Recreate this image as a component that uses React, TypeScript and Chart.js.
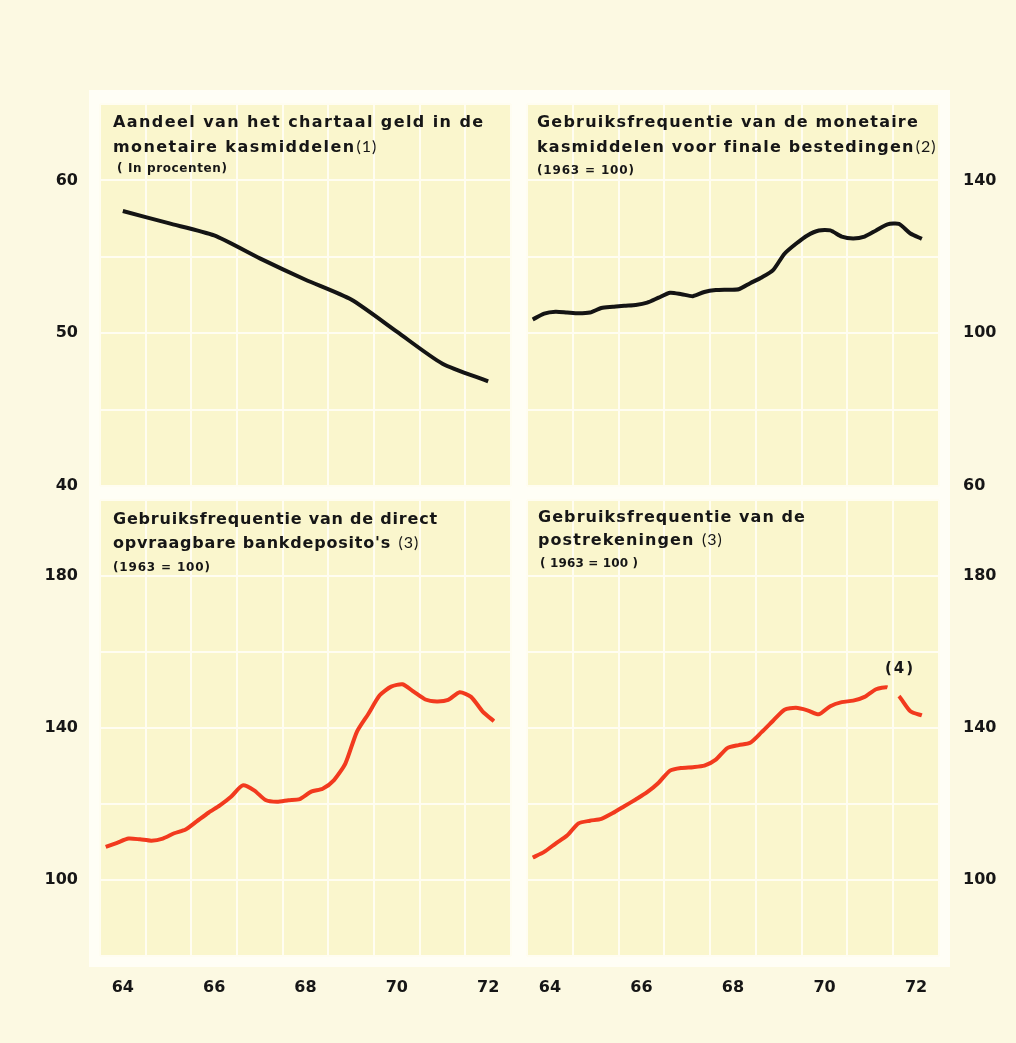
import React, { useEffect, useRef } from 'react';
import { Chart, registerables } from 'chart.js';

Chart.register(...registerables);

const PAGE_W = 1016;
const PAGE_H = 1043;

// ---------- DATA ----------
const yearLabels = ['64', '66', '68', '70', '72'];
const yearLabelPositions = [1964.5, 1966.5, 1968.5, 1970.5, 1972.5];
const yearBoundaries = [1964, 1965, 1966, 1967, 1968, 1969, 1970, 1971, 1972, 1973];

// annual observations (mid-year)
const annualX = [1964.5, 1965.5, 1966.5, 1967.5, 1968.5, 1969.5, 1970.5, 1971.5, 1972.5];
// quarterly observations 1964-I .. 1972-III (mid-quarter)
const quarterX = Array.from({ length: 35 }, (_, i) => 1964 + (i + 0.5) / 4);

// Aandeel van het chartaal geld (%)
const chartaalShare = [58.0, 57.2, 56.4, 54.9, 53.5, 52.2, 50.1, 48.0, 46.85];

// Gebruiksfrequentie monetaire kasmiddelen (1963 = 100)
const monetaryFreq = [
  103.6, 105.1, 105.6, 105.4, 105.2, 105.4, 106.6, 106.9, 107.2, 107.4,
  108.0, 109.3, 110.6, 110.2, 109.7, 110.8, 111.3, 111.4, 111.5, 113.1,
  114.6, 116.5, 120.8, 123.4, 125.6, 126.9, 126.9, 125.3, 124.8, 125.3,
  126.9, 128.5, 128.6, 126.1, 124.7,
];

// Gebruiksfrequentie direct opvraagbare bankdeposito's (1963 = 100)
const bankFreq = [
  108.7, 109.8, 110.9, 110.7, 110.35, 110.9, 112.3, 113.3, 115.5, 117.7,
  119.65, 122.0, 124.9, 123.6, 121.05, 120.6, 121.0, 121.3, 123.25, 124.0,
  126.3, 130.7, 139.0, 143.7, 148.6, 150.9, 151.5, 149.5, 147.5, 147.0,
  147.4, 149.4, 148.2, 144.4, 141.8,
];

// Gebruiksfrequentie postrekeningen (1963 = 100)
const postFreq = [
  105.9, 107.4, 109.6, 111.7, 114.9, 115.6, 116.1, 117.6, 119.4, 121.2,
  123.1, 125.6, 128.8, 129.5, 129.7, 130.1, 131.7, 134.7, 135.5, 136.1,
  138.9, 141.9, 144.8, 145.3, 144.65, 143.6, 145.75, 146.8, 147.2, 148.2,
  150.2, 150.7, 148.4, 144.4, 143.3,
];
const postBreakAfterIndex = 31; // series break, marked (4)
const postNote = { text: '(4)', x: 1972.15, y: 155.6 };

const tlYLabels = [40, 50, 60];
const trYLabels = [60, 100, 140];
const bottomYLabels = [100, 140, 180];

// ---------- STYLE ----------
const BG = '#fcf9e2';
const FRAME = '#fffef6';
const PANEL = '#faf6cd';
const GRID = '#fffdf1';
const BLACK = '#141414';
const RED = '#f23a1e';
const TEXT = '#161616';
const TITLE_FONT = 'DejaVu Sans';
const MARK_FONT = 'Lato';
const TICK_FONT = 'DejaVu Sans';

type Seg = [string, boolean];
type TitleLine = { segs: Seg[]; base: number };
type Panel = {
  key: string;
  area: { left: number; top: number; right: number; bottom: number };
  yMin: number;
  yMax: number;
  yStep: number;
  yLabels: number[];
  ySide: 'left' | 'right';
  showX: boolean;
  xs: number[];
  ys: number[];
  color: string;
  breakAfter?: number;
  title: {
    x: number;
    width: number;
    lines: TitleLine[];
    sub: { text: string; x: number; base: number; width: number };
  };
  note?: { text: string; x: number; y: number };
};

const panels: Panel[] = [
  {
    key: 'tl',
    area: { left: 100, top: 104, right: 511, bottom: 486 },
    yMin: 40, yMax: 65, yStep: 5, yLabels: tlYLabels, ySide: 'left', showX: false,
    xs: annualX, ys: chartaalShare, color: BLACK,
    title: {
      x: 113, width: 370,
      lines: [
        { segs: [['Aandeel van het chartaal geld in de', true]], base: 127 },
        { segs: [['monetaire kasmiddelen', true], ['(1)', false]], base: 151.5 },
      ],
      sub: { text: '( In procenten)', x: 117, base: 172, width: 110 },
    },
  },
  {
    key: 'tr',
    area: { left: 527, top: 104, right: 939, bottom: 486 },
    yMin: 60, yMax: 160, yStep: 20, yLabels: trYLabels, ySide: 'right', showX: false,
    xs: quarterX, ys: monetaryFreq, color: BLACK,
    title: {
      x: 537, width: 381,
      lines: [
        { segs: [['Gebruiksfrequentie van de monetaire', true]], base: 127.3 },
        { segs: [['kasmiddelen voor finale bestedingen', true], ['(2)', false]], base: 151.7 },
      ],
      sub: { text: '(1963 = 100)', x: 537, base: 174, width: 97 },
    },
  },
  {
    key: 'bl',
    area: { left: 100, top: 500, right: 511, bottom: 956 },
    yMin: 80, yMax: 200, yStep: 20, yLabels: bottomYLabels, ySide: 'left', showX: true,
    xs: quarterX, ys: bankFreq, color: RED,
    title: {
      x: 113, width: 324,
      lines: [
        { segs: [['Gebruiksfrequentie van de direct', true]], base: 524 },
        { segs: [["opvraagbare bankdeposito's ", true], ['(3)', false]], base: 548.3 },
      ],
      sub: { text: '(1963 = 100)', x: 113, base: 570.7, width: 97 },
    },
  },
  {
    key: 'br',
    area: { left: 527, top: 500, right: 939, bottom: 956 },
    yMin: 80, yMax: 200, yStep: 20, yLabels: bottomYLabels, ySide: 'right', showX: true,
    xs: quarterX, ys: postFreq, color: RED, breakAfter: postBreakAfterIndex,
    title: {
      x: 538, width: 267,
      lines: [
        { segs: [['Gebruiksfrequentie van de', true]], base: 521.7 },
        { segs: [['postrekeningen ', true], ['(3)', false]], base: 545 },
      ],
      sub: { text: '( 1963 = 100 )', x: 540, base: 567.3, width: 98 },
    },
    note: postNote,
  },
];

const Y_AXIS_W = 60;
const X_AXIS_H = 50;

function fitSpacing(ctx: CanvasRenderingContext2D, text: string, width: number) {
  (ctx as any).letterSpacing = '0px';
  const w0 = ctx.measureText(text).width;
  return Math.max(0, (width - w0) / Math.max(1, text.length - 1));
}

function panelPlugin(p: Panel) {
  return {
    id: 'panel_' + p.key,
    beforeDraw(chart: any) {
      const { ctx, chartArea: a } = chart;
      ctx.save();
      ctx.fillStyle = PANEL;
      ctx.fillRect(a.left, a.top, a.right - a.left, a.bottom - a.top);
      ctx.restore();
    },
    afterDraw(chart: any) {
      const ctx: CanvasRenderingContext2D = chart.ctx;
      const c: any = ctx;
      ctx.save();
      ctx.fillStyle = TEXT;
      ctx.textBaseline = 'alphabetic';
      ctx.textAlign = 'left';
      const boldFont = `bold 16px ${TITLE_FONT}`;
      ctx.font = boldFont;
      const first = p.title.lines[0].segs[0][0];
      const sp = fitSpacing(ctx, first, p.title.width);
      for (const line of p.title.lines) {
        let x = p.title.x;
        for (const [txt, bold] of line.segs) {
          if (bold) {
            ctx.font = boldFont;
            c.letterSpacing = sp.toFixed(2) + 'px';
          } else {
            ctx.font = `16px ${MARK_FONT}`;
            c.letterSpacing = '1px';
            x += 1;
          }
          ctx.fillText(txt, x, line.base);
          x += ctx.measureText(txt).width;
        }
      }
      ctx.font = `bold 12px ${TITLE_FONT}`;
      const ssp = fitSpacing(ctx, p.title.sub.text, p.title.sub.width);
      c.letterSpacing = ssp.toFixed(2) + 'px';
      ctx.fillText(p.title.sub.text, p.title.sub.x, p.title.sub.base);
      if (p.note) {
        ctx.font = `bold 15px ${TITLE_FONT}`;
        c.letterSpacing = '2px';
        ctx.textAlign = 'center';
        ctx.textBaseline = 'middle';
        const nx = chart.scales.x.getPixelForValue(p.note.x);
        const ny = chart.scales.y.getPixelForValue(p.note.y);
        ctx.fillText(p.note.text, nx, ny);
      }
      c.letterSpacing = '0px';
      ctx.restore();
    },
  };
}

function buildConfig(p: Panel): any {
  const xTicks = [...yearBoundaries, ...yearLabelPositions].sort((a, b) => a - b);
  const padLeft = p.ySide === 'left' ? p.area.left - Y_AXIS_W : p.area.left;
  const padRight = p.ySide === 'right' ? PAGE_W - p.area.right - Y_AXIS_W : PAGE_W - p.area.right;
  const xH = p.showX ? X_AXIS_H : 0;
  const padBottom = PAGE_H - p.area.bottom - xH;
  const brk = p.breakAfter;
  return {
    type: 'line',
    data: {
      datasets: [
        {
          data: p.xs.map((x, i) => ({ x, y: p.ys[i] })),
          borderColor: p.color,
          borderWidth: 4,
          pointRadius: 0,
          tension: 0.22,
          fill: false,
          borderJoinStyle: 'round',
          segment:
            brk !== undefined
              ? { borderColor: (ctx: any) => (ctx.p0DataIndex === brk ? 'transparent' : p.color) }
              : undefined,
        },
      ],
    },
    options: {
      animation: false,
      responsive: false,
      devicePixelRatio: 1,
      events: [],
      layout: { padding: { left: padLeft, right: padRight, top: p.area.top, bottom: padBottom } },
      plugins: { legend: { display: false }, tooltip: { enabled: false }, title: { display: false } },
      scales: {
        x: {
          type: 'linear',
          min: 1964,
          max: 1973,
          afterBuildTicks: (s: any) => {
            s.ticks = xTicks.map((v) => ({ value: v }));
          },
          afterFit: (s: any) => {
            s.height = xH;
          },
          grid: {
            color: (ctx: any) => (ctx.tick && Number.isInteger(ctx.tick.value) ? GRID : 'rgba(0,0,0,0)'),
            lineWidth: 2,
            drawTicks: false,
          },
          border: { display: false },
          ticks: {
            display: p.showX,
            autoSkip: false,
            maxRotation: 0,
            padding: 22,
            color: TEXT,
            font: { family: TICK_FONT, size: 16, weight: 'bold' },
            callback: (v: any) => {
              const i = yearLabelPositions.indexOf(Number(v));
              return i >= 0 ? yearLabels[i] : '';
            },
          },
        },
        y: {
          type: 'linear',
          position: p.ySide,
          min: p.yMin,
          max: p.yMax,
          afterFit: (s: any) => {
            s.width = Y_AXIS_W;
          },
          grid: { color: GRID, lineWidth: 2, drawTicks: false },
          border: { display: false },
          ticks: {
            stepSize: p.yStep,
            autoSkip: false,
            padding: p.ySide === 'left' ? 22 : 24,
            color: TEXT,
            font: { family: TICK_FONT, size: 16, weight: 'bold' },
            callback: (v: any) => (p.yLabels.includes(Number(v)) ? String(v) : ''),
          },
        },
      },
    },
    plugins: [panelPlugin(p)],
  };
}

function PanelCanvas({ p }: { p: Panel }) {
  const ref = useRef<HTMLCanvasElement | null>(null);
  useEffect(() => {
    if (!ref.current) return;
    const chart = new Chart(ref.current, buildConfig(p));
    return () => chart.destroy();
  }, [p]);
  return (
    <canvas
      ref={ref}
      width={PAGE_W}
      height={PAGE_H}
      style={{ position: 'absolute', left: 0, top: 0, width: PAGE_W, height: PAGE_H }}
    />
  );
}

export default function App() {
  return (
    <div
      style={{
        position: 'absolute',
        left: 0,
        top: 0,
        width: PAGE_W,
        height: PAGE_H,
        background: BG,
        overflow: 'hidden',
      }}
    >
      <div
        style={{
          position: 'absolute',
          left: 89,
          top: 90,
          width: 861,
          height: 877,
          background: FRAME,
        }}
      />
      {panels.map((p) => (
        <PanelCanvas key={p.key} p={p} />
      ))}
    </div>
  );
}
